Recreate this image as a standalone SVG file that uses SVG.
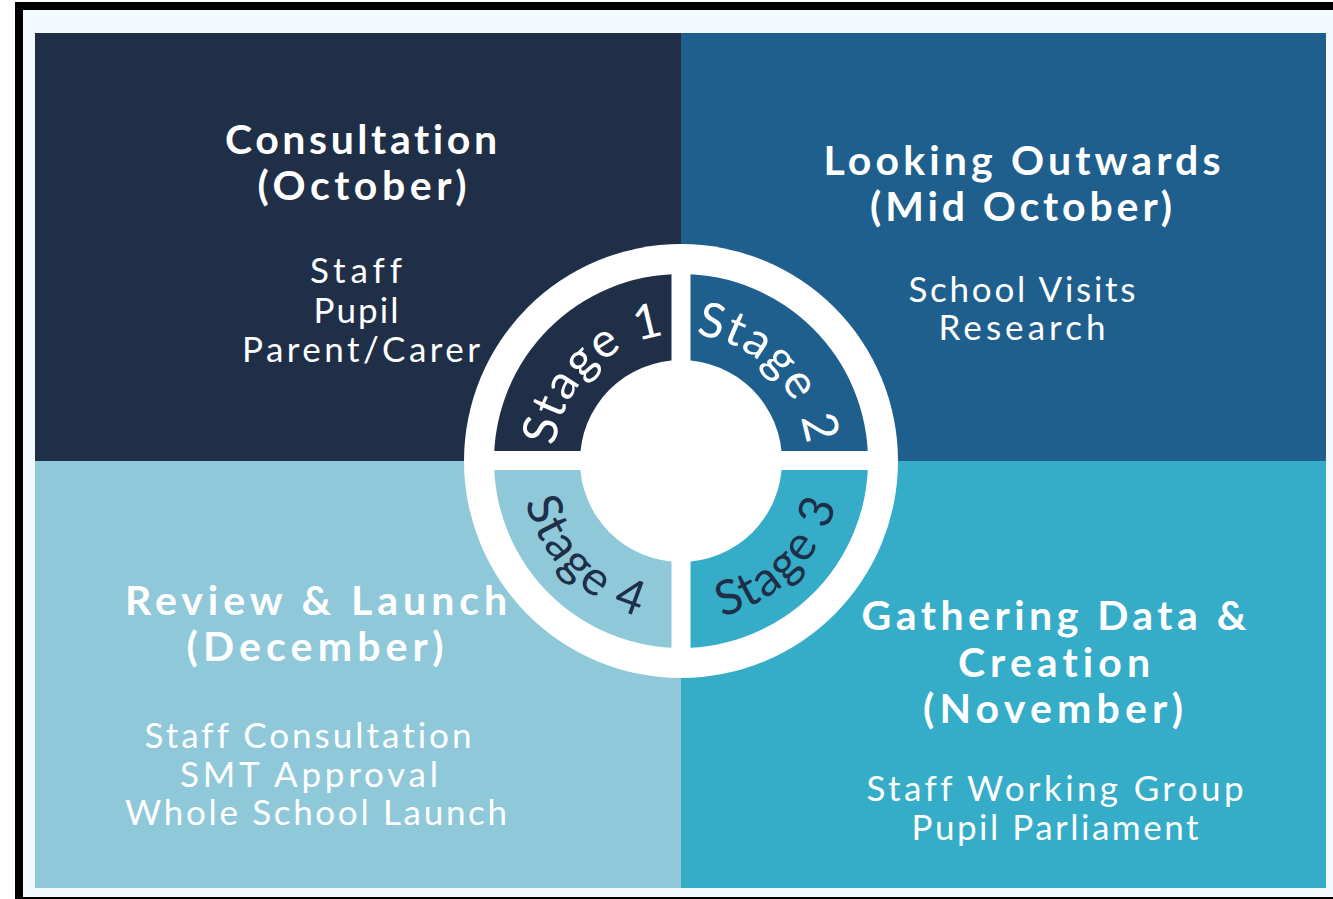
<svg xmlns="http://www.w3.org/2000/svg" width="1333" height="899" viewBox="0 0 1333 899">
  <style>
    text { font-variant-ligatures: none; font-feature-settings: "liga" 0, "clig" 0; }
    .h { font-family: Lato, "Open Sans", sans-serif; font-weight: 700; font-size: 41px; fill: #ffffff; text-anchor: middle; }
    .b { font-family: Lato, "Open Sans", sans-serif; font-weight: 400; font-size: 35px; fill: #ffffff; text-anchor: middle; }
    .st { font-family: Lato, "Open Sans", sans-serif; font-weight: 400; font-size: 48px; letter-spacing: 2px; }
    .light { fill: #ffffff; }
    .dark { fill: #1f2f48; }
  </style>
  <defs>
    <path id="arc1" d="M 561.7 504.4 A 127 127 0 0 1 724.4 341.7"/>
    <path id="arc2" d="M 637.6 341.7 A 127 127 0 0 1 800.3 504.4"/>
    <path id="arc3" d="M 625.9 612.3 A 161 161 0 0 0 832.3 405.9"/>
    <path id="arc4" d="M 529.7 405.9 A 161 161 0 0 0 736.1 612.3"/>
  </defs>

  <!-- background and frame -->
  <rect x="0" y="0" width="1333" height="899" fill="#ffffff"/>
  <rect x="15" y="2" width="1318" height="897" fill="#000000"/>
  <rect x="23" y="10" width="1310" height="887" fill="#f4fbfe"/>

  <!-- quadrants -->
  <g id="q1">
    <rect x="35" y="33" width="646" height="428" fill="#1f2f48"/>
    <text class="h" x="361" y="154" textLength="272" lengthAdjust="spacing">Consultation</text>
    <text class="h" x="362" y="200" textLength="209" lengthAdjust="spacing">(October)</text>
    <text class="b" x="356" y="283" textLength="92" lengthAdjust="spacing">Staff</text>
    <text class="b" x="356" y="323" textLength="85" lengthAdjust="spacing">Pupil</text>
    <text class="b" x="361" y="362" textLength="238" lengthAdjust="spacing">Parent/Carer</text>
  </g>
  <g id="q2">
    <rect x="681" y="33" width="645" height="428" fill="#1f5f8d"/>
    <text class="h" x="1022" y="175" textLength="397" lengthAdjust="spacing">Looking Outwards</text>
    <text class="h" x="1021" y="221" textLength="302" lengthAdjust="spacing">(Mid October)</text>
    <text class="b" x="1022" y="302" textLength="227" lengthAdjust="spacing">School Visits</text>
    <text class="b" x="1022" y="340" textLength="167" lengthAdjust="spacing">Research</text>
  </g>
  <g id="q4">
    <rect x="35" y="461" width="646" height="427" fill="#8fc9d9"/>
    <text class="h" x="316" y="615" textLength="382" lengthAdjust="spacing">Review &amp; Launch</text>
    <text class="h" x="315" y="661" textLength="257" lengthAdjust="spacing">(December)</text>
    <text class="b" x="308" y="748" textLength="327" lengthAdjust="spacing">Staff Consultation</text>
    <text class="b" x="309" y="787" textLength="258" lengthAdjust="spacing">SMT Approval</text>
    <text class="b" x="316" y="825" textLength="382" lengthAdjust="spacing">Whole School Launch</text>
  </g>
  <g id="q3">
    <rect x="681" y="461" width="645" height="427" fill="#35acc8"/>
    <text class="h" x="1054" y="630" textLength="385" lengthAdjust="spacing">Gathering Data &amp;</text>
    <text class="h" x="1054" y="677" textLength="192" lengthAdjust="spacing">Creation</text>
    <text class="h" x="1053" y="723" textLength="260" lengthAdjust="spacing">(November)</text>
    <text class="b" x="1055" y="801" textLength="377" lengthAdjust="spacing">Staff Working Group</text>
    <text class="b" x="1055" y="840" textLength="287" lengthAdjust="spacing">Pupil Parliament</text>
  </g>

  <!-- central wheel -->
  <g id="wheel">
    <circle cx="681" cy="461" r="217" fill="#ffffff"/>
    <path d="M 681 461 L 494 461 A 187 187 0 0 1 681 274 Z" fill="#1f2f48"/>
    <path d="M 681 461 L 681 274 A 187 187 0 0 1 868 461 Z" fill="#1f5f8d"/>
    <path d="M 681 461 L 868 461 A 187 187 0 0 1 681 648 Z" fill="#35acc8"/>
    <path d="M 681 461 L 681 648 A 187 187 0 0 1 494 461 Z" fill="#8fc9d9"/>
    <rect x="671.5" y="270" width="19" height="382" fill="#ffffff"/>
    <rect x="490" y="451" width="382" height="19" fill="#ffffff"/>
    <circle cx="681" cy="461" r="101" fill="#ffffff"/>
  </g>
  <g id="stage1"><text class="st light"><textPath href="#arc1" startOffset="50%" text-anchor="middle">Stage 1</textPath></text></g>
  <g id="stage2"><text class="st light"><textPath href="#arc2" startOffset="50%" text-anchor="middle">Stage 2</textPath></text></g>
  <g id="stage3"><text class="st dark"><textPath href="#arc3" startOffset="50%" text-anchor="middle">Stage 3</textPath></text></g>
  <g id="stage4"><text class="st dark"><textPath href="#arc4" startOffset="50%" text-anchor="middle">Stage 4</textPath></text></g>
</svg>
